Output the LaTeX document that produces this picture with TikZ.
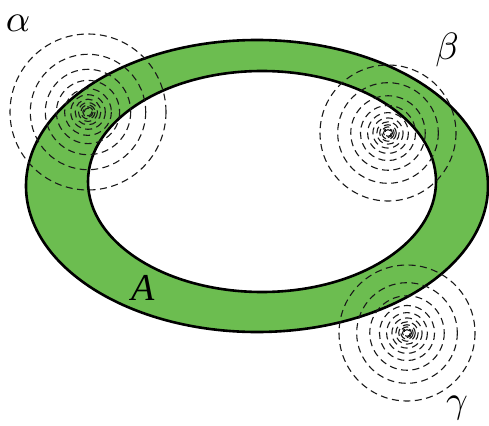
\documentclass[tikz,border=0pt]{standalone}
\usepackage{fontspec}
\setmainfont{Liberation Serif}
\definecolor{ringgreen}{RGB}{108,189,80}
\tikzset{
  ring/.style={line width=2.6pt, draw=black},
  wave/.style={draw=black!90, line width=1.1pt, dash pattern=on 7pt off 4.5pt},
  lbl/.style={font=\fontsize{10}{12}\selectfont\itshape, inner sep=0pt, scale=3.8}
}
\begin{document}
\begin{tikzpicture}[x=1pt,y=-1pt]
\useasboundingbox (0,0) rectangle (489,425);
% annulus
\fill[ringgreen, even odd rule] (257,186) ellipse [x radius=231, y radius=146] (262,181.5) ellipse [x radius=174, y radius=110.5];
\draw[ring] (257,186) ellipse [x radius=231, y radius=146];
\draw[ring] (262,181.5) ellipse [x radius=174, y radius=110.5];
% wave sources
\coordinate (a) at (88,112);
\coordinate (b) at (388,133);
\coordinate (c) at (407,333);
\foreach \k in {0,...,10}{
  \pgfmathsetmacro{\f}{0.74^\k}
  \draw[wave] (a) circle [radius=78*\f];
  \draw[wave] (b) circle [radius=68*\f];
  \draw[wave] (c) circle [radius=68*\f];
}
\node[lbl] (la) at (18,23) {$\alpha$};
\node[lbl] (lb) at (447,50) {$\beta$};
\node[lbl] (lc) at (457,408) {$\gamma$};
\node[lbl] (lA) at (143,288) {A};
\end{tikzpicture}
\end{document}
